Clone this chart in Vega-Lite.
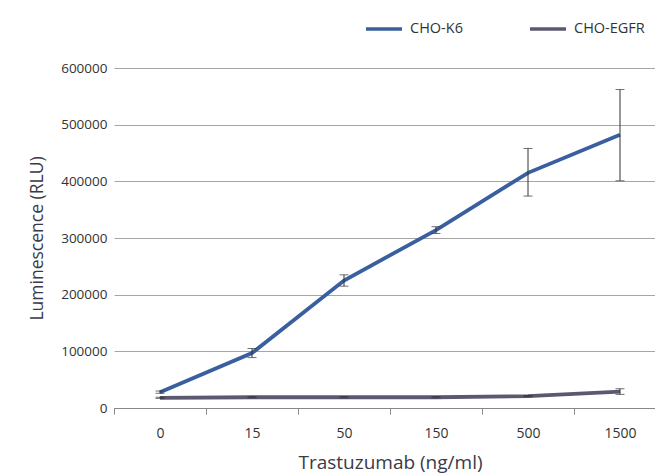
{
  "$schema": "https://vega.github.io/schema/vega-lite/v6.json",
  "autosize": "none",
  "width": 552,
  "height": 340,
  "padding": {"left": 114, "top": 68, "right": 0, "bottom": 67},
  "background": "white",
  "config": {
    "font": "Open Sans",
    "view": {"stroke": null}
  },
  "data": {
    "values": [
      {"conc": "0", "series": "CHO-K6", "value": 28000, "lo": 26000, "hi": 30000},
      {"conc": "15", "series": "CHO-K6", "value": 97000, "lo": 89000, "hi": 105000},
      {"conc": "50", "series": "CHO-K6", "value": 225000, "lo": 215000, "hi": 235000},
      {"conc": "150", "series": "CHO-K6", "value": 314000, "lo": 308000, "hi": 320000},
      {"conc": "500", "series": "CHO-K6", "value": 415000, "lo": 374000, "hi": 458000},
      {"conc": "1500", "series": "CHO-K6", "value": 482000, "lo": 401000, "hi": 562000},
      {"conc": "0", "series": "CHO-EGFR", "value": 18000, "lo": 17000, "hi": 19000},
      {"conc": "15", "series": "CHO-EGFR", "value": 19000, "lo": 18000, "hi": 20000},
      {"conc": "50", "series": "CHO-EGFR", "value": 19000, "lo": 18000, "hi": 20000},
      {"conc": "150", "series": "CHO-EGFR", "value": 19000, "lo": 18000, "hi": 20000},
      {"conc": "500", "series": "CHO-EGFR", "value": 21000, "lo": 20000, "hi": 22000},
      {"conc": "1500", "series": "CHO-EGFR", "value": 29000, "lo": 24000, "hi": 34000}
    ]
  },
  "encoding": {
    "x": {
      "field": "conc",
      "type": "ordinal",
      "sort": ["0", "15", "50", "150", "500", "1500"],
      "scale": {"type": "point", "padding": 0.5},
      "axis": {
        "title": "Trastuzumab (ng/ml)",
        "titleFont": "Open Sans",
        "titleFontSize": 19,
        "titleFontWeight": "normal",
        "titleColor": "#3a3a48",
        "titlePadding": 13,
        "labelAngle": 0,
        "labelFontSize": 14,
        "labelColor": "#333333",
        "labelPadding": 12,
        "tickOffset": -46,
        "labelOffset": 46,
        "tickSize": 6,
        "tickColor": "#888888",
        "domainColor": "#888888",
        "grid": false
      }
    }
  },
  "layer": [
    {
      "mark": {"type": "line", "strokeWidth": 3.8},
      "encoding": {
        "y": {
          "field": "value",
          "type": "quantitative",
          "scale": {"domain": [0, 600000]},
          "axis": {
            "title": "Luminescence (RLU)",
            "titleFont": "Open Sans",
            "titleFontSize": 17.5,
            "titleFontWeight": "normal",
            "titleColor": "#3a3a48",
            "titlePadding": 14,
            "values": [0, 100000, 200000, 300000, 400000, 500000, 600000],
            "format": "d",
            "labelFontSize": 13.5,
            "labelColor": "#333333",
            "labelPadding": 7,
            "domain": false,
            "ticks": false,
            "gridColor": "#a6a6a6",
            "gridWidth": 1
          }
        },
        "color": {
          "field": "series",
          "type": "nominal",
          "sort": ["CHO-K6", "CHO-EGFR"],
          "scale": {"domain": ["CHO-K6", "CHO-EGFR"], "range": ["#3a5f9e", "#5b5870"]},
          "legend": {
            "title": null,
            "orient": "none",
            "direction": "horizontal",
            "legendX": 250,
            "legendY": -59,
            "symbolType": "stroke",
            "symbolSize": 1296,
            "symbolStrokeWidth": 3.5,
            "labelFontSize": 14.5,
            "labelColor": "#333333",
            "labelOffset": 6,
            "columnPadding": 60
          }
        }
      }
    },
    {
      "mark": {"type": "rule", "color": "#333333", "strokeWidth": 1},
      "encoding": {
        "y": {"field": "lo", "type": "quantitative"},
        "y2": {"field": "hi"}
      }
    },
    {
      "mark": {"type": "tick", "color": "#333333", "thickness": 1, "size": 9, "orient": "horizontal"},
      "encoding": {
        "y": {"field": "lo", "type": "quantitative"}
      }
    },
    {
      "mark": {"type": "tick", "color": "#333333", "thickness": 1, "size": 9, "orient": "horizontal"},
      "encoding": {
        "y": {"field": "hi", "type": "quantitative"}
      }
    }
  ]
}
